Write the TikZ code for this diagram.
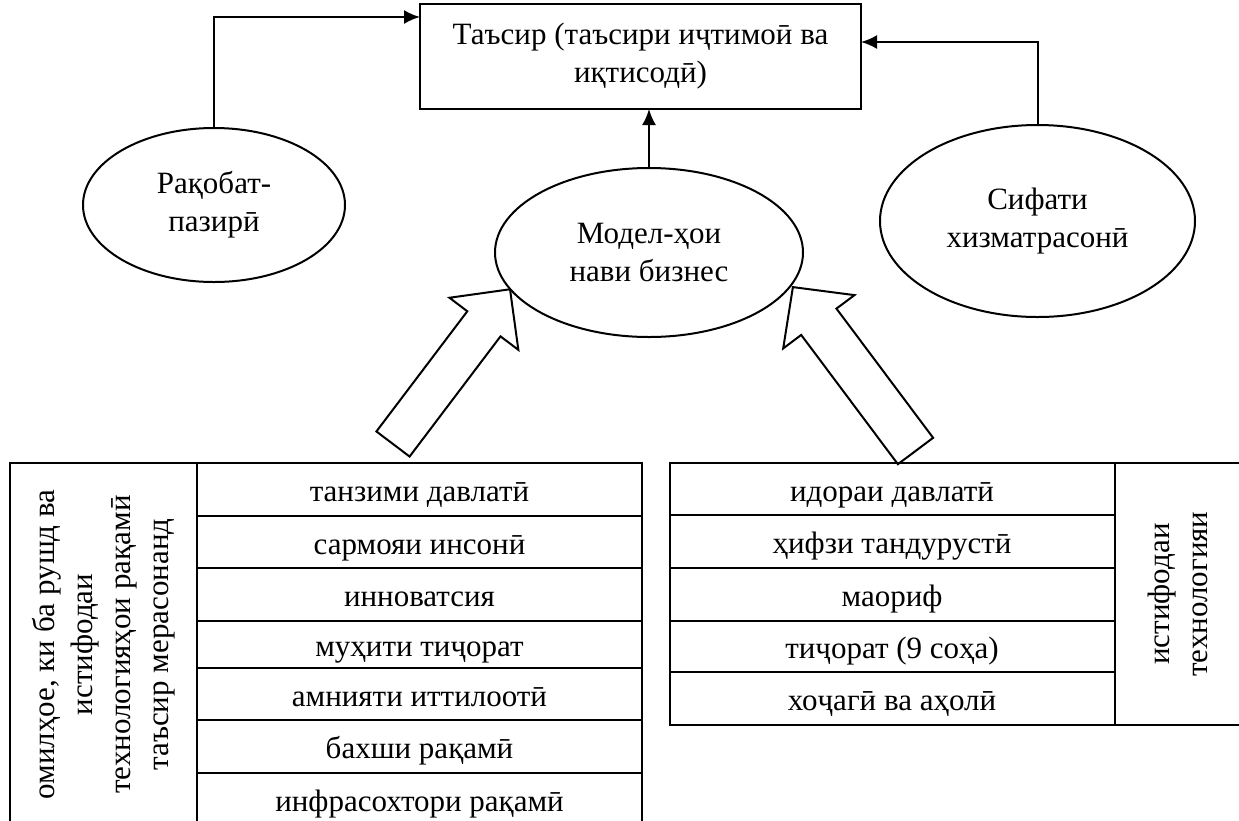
\documentclass[tikz,border=0pt]{standalone}
\usepackage{fontspec}
\setmainfont{Liberation Serif}
\usetikzlibrary{positioning,shapes.geometric,arrows.meta}

\begin{document}
\begin{tikzpicture}[x=1pt,y=-1pt,
% styles
ovalnode/.style={ellipse, draw, line width=2pt, inner sep=0pt, align=center},
boxnode/.style={rectangle, draw, line width=2pt, inner sep=0pt, outer sep=0pt, align=center},
cellnode/.style={rectangle, draw, line width=2pt, inner sep=0pt, outer sep=0pt},
rownode/.style={cellnode, minimum width=445pt, text height=30pt, text depth=6pt},
link/.style={line width=2pt, -{Latex[length=16pt,width=14pt]}},
hollow/.style={draw, line width=2pt, line join=miter},
font=\fontsize{31}{38}\selectfont
]
\useasboundingbox (0,0) rectangle (1239,820);
\clip (0,0) rectangle (1239,820);

%Nodes
\node[boxnode, minimum width=441pt, minimum height=105pt] (top) at (640.5,56.5) {Таъсир (таъсири иҷтимоӣ ва\\иқтисодӣ)};
\node[ovalnode, minimum width=262pt, minimum height=154pt] (e1) at (214,205) {Рақобат-\\пазирӣ};
\node[ovalnode, minimum width=308pt, minimum height=169pt] (e2) at (649,252.5) {Модел-ҳои\\нави бизнес};
\node[ovalnode, minimum width=315pt, minimum height=192pt] (e3) at (1037.5,221) {Сифати\\хизматрасонӣ};

% left table
\node[rownode, minimum height=53pt] (l1) at (419.5,489.5) {танзими давлатӣ};
\node[rownode, minimum height=52pt] (l2) [below=0pt of l1] {сармояи инсонӣ};
\node[rownode, minimum height=53pt] (l3) [below=0pt of l2] {инноватсия};
\node[rownode, minimum height=47pt] (l4) [below=0pt of l3] {муҳити тиҷорат};
\node[rownode, minimum height=52pt] (l5) [below=0pt of l4] {амнияти иттилоотӣ};
\node[rownode, minimum height=53pt] (l6) [below=0pt of l5] {бахши рақамӣ};
\node[rownode, minimum height=53pt] (l7) [below=0pt of l6] {инфрасохтори рақамӣ};
\node[cellnode, rotate=90, align=center, minimum width=363pt, minimum height=187pt] (lh) at (103.5,644.5) {омилҳое, ки ба рушд ва\\истифодаи\\технологияҳои рақамӣ\\таъсир мерасонанд};

% right table
\node[rownode, minimum height=52pt] (r1) at (892,489) {идораи давлатӣ};
\node[rownode, minimum height=53pt] (r2) [below=0pt of r1] {ҳифзи тандурустӣ};
\node[rownode, minimum height=53pt] (r3) [below=0pt of r2] {маориф};
\node[rownode, minimum height=51pt] (r4) [below=0pt of r3] {тиҷорат (9 соҳа)};
\node[rownode, minimum height=53pt] (r5) [below=0pt of r4] {хоҷагӣ ва аҳолӣ};
\node[cellnode, rotate=90, align=center, minimum width=262pt, minimum height=126pt] (rh) at (1178,594) {истифодаи\\технологияи};

%Lines
\draw[link] (e1.north) |- ([yshift=-13pt]top.north west);
\draw[link] (e3.north) |- ([yshift=-38pt]top.north east);
\draw[link] (e2.north) -- (e2.north |- top.south);

% hollow arrows
\draw[hollow, shift={(393,444)}, rotate=52.9] (0,-20.8) -- (150.7,-20.8) -- (150.7,-43.2) -- (194,0) -- (150.7,43.2) -- (150.7,20.8) -- (0,20.8) -- cycle;
\draw[hollow, shift={(915.5,451)}, rotate=126.8] (0,-22) -- (161.4,-22) -- (161.4,-44.5) -- (204.7,0) -- (161.4,44.5) -- (161.4,22) -- (0,22) -- cycle;

\end{tikzpicture}
\end{document}
